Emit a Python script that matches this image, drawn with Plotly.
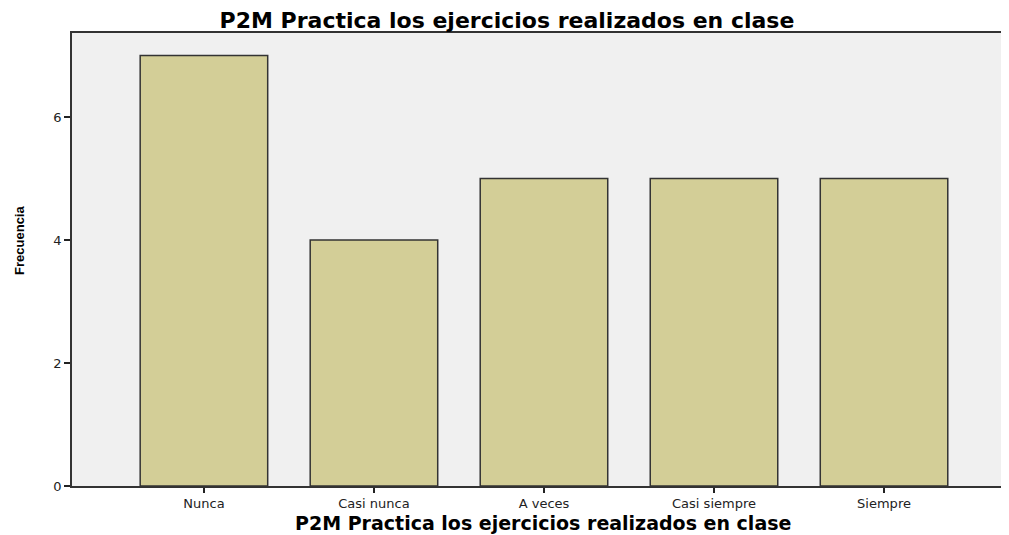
import plotly.graph_objects as go

categories = ["Nunca", "Casi nunca", "A veces", "Casi siempre", "Siempre"]
frecuencia = [7, 4, 5, 5, 5]
y_ticks = [0, 2, 4, 6]

title_text = "P2M Practica los ejercicios realizados en clase"
y_title = "Frecuencia"

fig = go.Figure()
fig.add_trace(go.Bar(
    x=list(range(len(categories))),
    y=frecuencia,
    width=0.75,
    marker=dict(color="#d3ce97", line=dict(color="#333333", width=1.5)),
    hoverinfo="skip",
))

fig.update_layout(
    width=993, height=527,
    margin=dict(l=64, r=0, t=25, b=49),
    paper_bgcolor="white",
    plot_bgcolor="#f0f0f0",
    showlegend=False,
    title=dict(text="<b>" + title_text + "</b>", x=0.5025, xanchor="center",
               y=1 - 12 / 527, yanchor="middle",
               font=dict(family="DejaVu Sans", size=22, color="black")),
    font=dict(family="DejaVu Sans", color="black"),
)
fig.update_xaxes(
    range=[-0.776, 4.688],
    tickmode="array",
    tickvals=list(range(len(categories))),
    ticktext=categories,
    ticks="outside", ticklen=5, tickcolor="#222", tickwidth=1.5,
    tickfont=dict(family="DejaVu Sans", size=13, color="#222"),
    showline=True, linecolor="#333", linewidth=1.5, mirror=True,
    showgrid=False, zeroline=False, automargin=False,
)
fig.update_yaxes(
    range=[0, 7.366],
    tickmode="array", tickvals=y_ticks,
    ticks="outside", ticklen=6, tickcolor="#222", tickwidth=1.5,
    tickfont=dict(family="DejaVu Sans", size=13, color="#222"),
    showline=True, linecolor="#333", linewidth=1.5,
    showgrid=False, zeroline=False, automargin=False,
)
fig.add_annotation(
    text="<b>" + title_text + "</b>", xref="paper", yref="paper",
    x=0.507, y=0, yshift=-37, xanchor="center", yanchor="middle",
    showarrow=False, font=dict(family="DejaVu Sans", size=19, color="black"),
)
fig.add_annotation(
    text="<b>" + y_title + "</b>", xref="paper", yref="paper",
    x=0, xshift=-52, y=0.541, xanchor="center", yanchor="middle",
    textangle=-90, showarrow=False,
    font=dict(family="Liberation Sans", size=13, color="black"),
)

fig.write_html("out.html")
